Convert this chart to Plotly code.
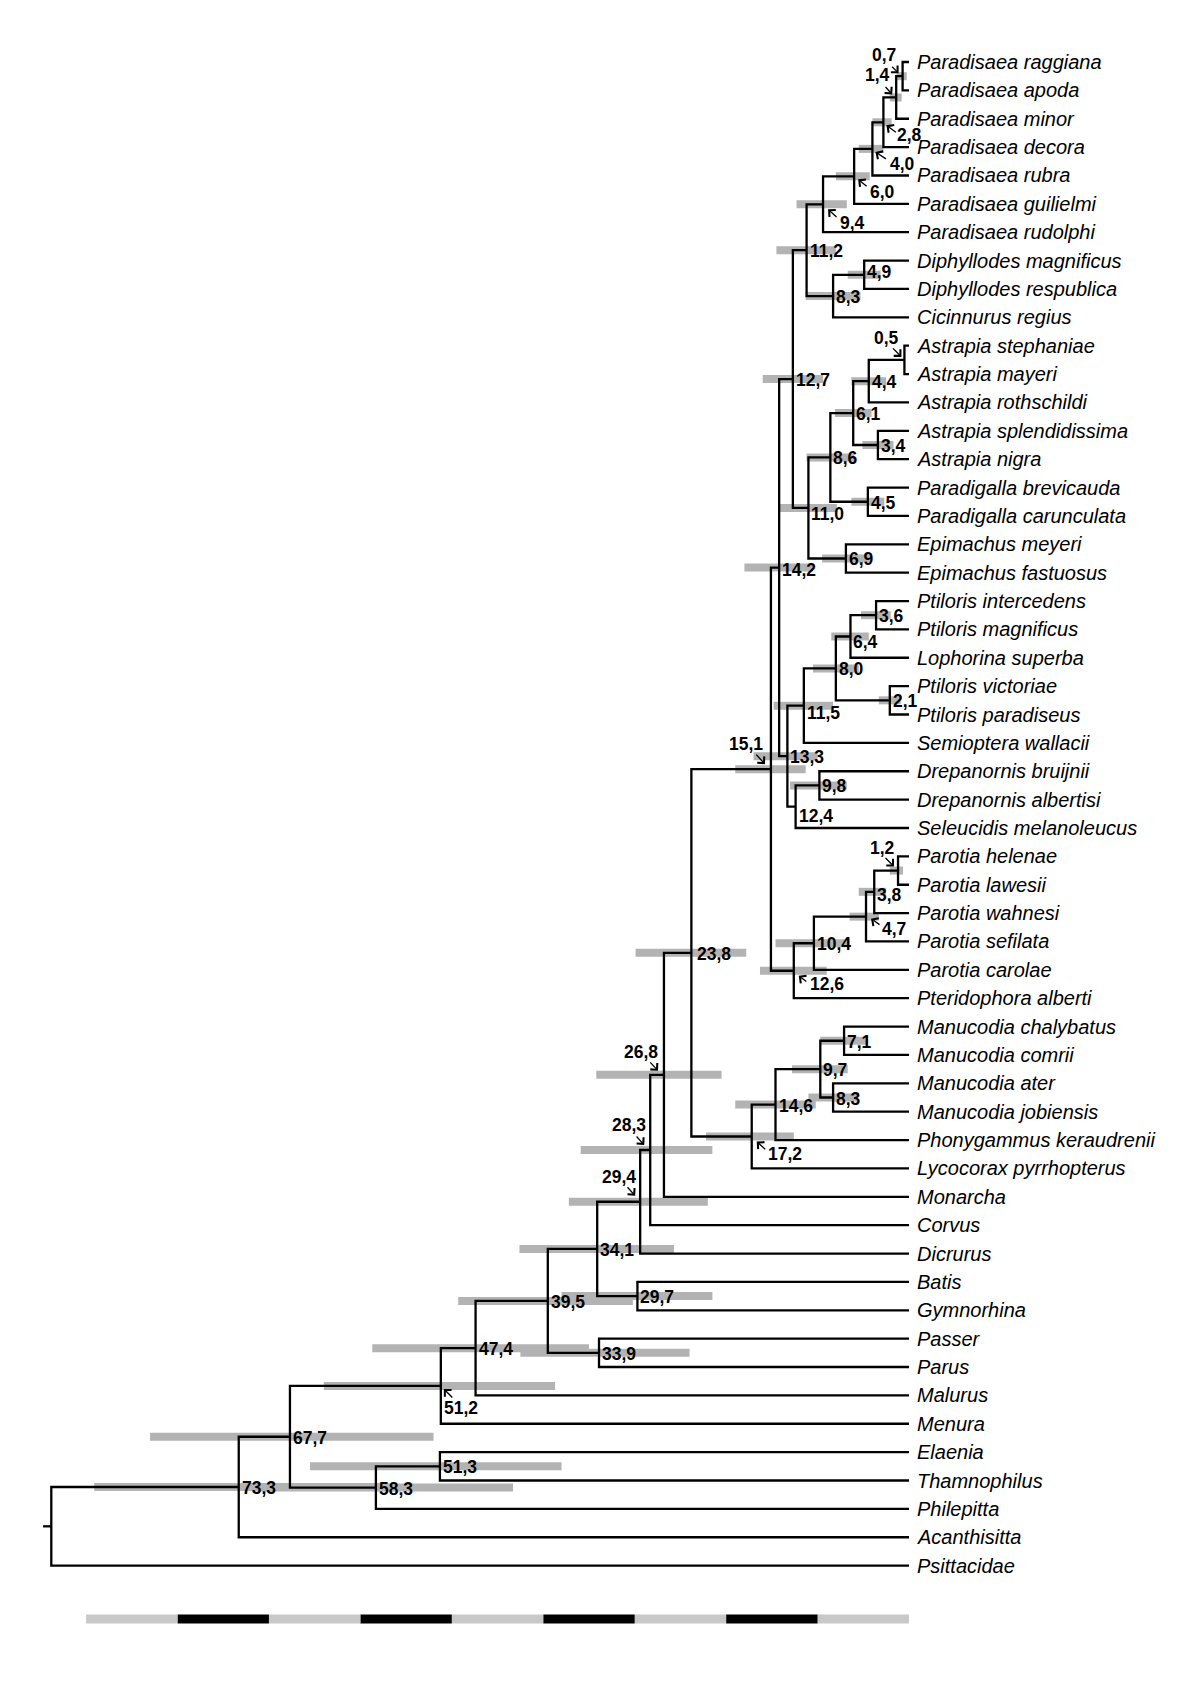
import plotly.graph_objects as go

# ---------------- DATA ----------------
tip_names = [
    "Paradisaea raggiana", "Paradisaea apoda", "Paradisaea minor", "Paradisaea decora",
    "Paradisaea rubra", "Paradisaea guilielmi", "Paradisaea rudolphi",
    "Diphyllodes magnificus", "Diphyllodes respublica", "Cicinnurus regius",
    "Astrapia stephaniae", "Astrapia mayeri", "Astrapia rothschildi",
    "Astrapia splendidissima", "Astrapia nigra", "Paradigalla brevicauda",
    "Paradigalla carunculata", "Epimachus meyeri", "Epimachus fastuosus",
    "Ptiloris intercedens", "Ptiloris magnificus", "Lophorina superba",
    "Ptiloris victoriae", "Ptiloris paradiseus", "Semioptera wallacii",
    "Drepanornis bruijnii", "Drepanornis albertisi", "Seleucidis melanoleucus",
    "Parotia helenae", "Parotia lawesii", "Parotia wahnesi", "Parotia sefilata",
    "Parotia carolae", "Pteridophora alberti", "Manucodia chalybatus",
    "Manucodia comrii", "Manucodia ater", "Manucodia jobiensis",
    "Phonygammus keraudrenii", "Lycocorax pyrrhopterus", "Monarcha", "Corvus",
    "Dicrurus", "Batis", "Gymnorhina", "Passer", "Parus", "Malurus", "Menura",
    "Elaenia", "Thamnophilus", "Philepitta", "Acanthisitta", "Psittacidae",
]

# internal nodes: id, age (Ma), two children (tip names or node ids)
node_ids = [
    "n0.7", "n1.4", "n2.8", "n4.0", "n6.0", "n9.4", "n4.9", "n8.3a", "n11.2",
    "n0.5", "n4.4", "n3.4", "n6.1", "n4.5", "n8.6", "n6.9", "n11.0", "n12.7",
    "n3.6", "n6.4", "n2.1", "n8.0", "n11.5", "n9.8", "n12.4", "n13.3", "n14.2",
    "n1.2", "n3.8", "n4.7", "n10.4", "n12.6", "n15.1",
    "n7.1", "n8.3b", "n9.7", "n14.6", "n17.2", "n23.8",
    "n26.8", "n28.3", "n29.4", "n29.7", "n34.1", "n33.9", "n39.5", "n47.4",
    "n51.2", "n51.3", "n58.3", "n67.7", "n73.3", "root",
]
node_ages = [
    0.7, 1.4, 2.8, 4.0, 6.0, 9.4, 4.9, 8.3, 11.2,
    0.5, 4.4, 3.4, 6.1, 4.5, 8.6, 6.9, 11.0, 12.7,
    3.6, 6.4, 2.1, 8.0, 11.5, 9.8, 12.4, 13.3, 14.2,
    1.2, 3.8, 4.7, 10.4, 12.6, 15.1,
    7.1, 8.3, 9.7, 14.6, 17.2, 23.8,
    26.8, 28.3, 29.4, 29.7, 34.1, 33.9, 39.5, 47.4,
    51.2, 51.3, 58.3, 67.7, 73.3, 93.8,
]
node_child_a = [
    "Paradisaea raggiana", "n0.7", "n1.4", "n2.8", "n4.0", "n6.0",
    "Diphyllodes magnificus", "n4.9", "n9.4",
    "Astrapia stephaniae", "n0.5", "Astrapia splendidissima", "n4.4",
    "Paradigalla brevicauda", "n6.1", "Epimachus meyeri", "n8.6", "n11.2",
    "Ptiloris intercedens", "n3.6", "Ptiloris victoriae", "n6.4", "n8.0",
    "Drepanornis bruijnii", "n9.8", "n11.5", "n12.7",
    "Parotia helenae", "n1.2", "n3.8", "n4.7", "n10.4", "n14.2",
    "Manucodia chalybatus", "Manucodia ater", "n7.1", "n9.7", "n14.6", "n15.1",
    "n23.8", "n26.8", "n28.3", "Batis", "n29.4", "Passer", "n34.1", "n39.5",
    "n47.4", "Elaenia", "n51.3", "n51.2", "n67.7", "n73.3",
]
node_child_b = [
    "Paradisaea apoda", "Paradisaea minor", "Paradisaea decora", "Paradisaea rubra",
    "Paradisaea guilielmi", "Paradisaea rudolphi",
    "Diphyllodes respublica", "Cicinnurus regius", "n8.3a",
    "Astrapia mayeri", "Astrapia rothschildi", "Astrapia nigra", "n3.4",
    "Paradigalla carunculata", "n4.5", "Epimachus fastuosus", "n6.9", "n11.0",
    "Ptiloris magnificus", "Lophorina superba", "Ptiloris paradiseus", "n2.1",
    "Semioptera wallacii", "Drepanornis albertisi", "Seleucidis melanoleucus",
    "n12.4", "n13.3",
    "Parotia lawesii", "Parotia wahnesi", "Parotia sefilata", "Parotia carolae",
    "Pteridophora alberti", "n12.6",
    "Manucodia comrii", "Manucodia jobiensis", "n8.3b", "Phonygammus keraudrenii",
    "Lycocorax pyrrhopterus", "n17.2",
    "Monarcha", "Corvus", "Dicrurus", "Gymnorhina", "n29.7", "Parus", "n33.9",
    "Malurus", "Menura", "Thamnophilus", "Philepitta", "n58.3", "Acanthisitta",
    "Psittacidae",
]
# 95% intervals (Ma); None = no bar visible
ci_low = [
    0.25, 0.8, 1.9, 2.8, 4.3, 6.8, 3.1, 5.3, 8.0,
    None, 2.5, 1.7, 4.1, 2.7, 6.0, 4.3, 7.9, 9.4,
    2.0, 4.4, 0.9, 5.5, 8.3, 6.8, None, 10.0, 10.5,
    0.65, 2.5, 3.3, 6.5, 9.0, 11.3,
    4.5, 5.6, 6.7, 10.2, 12.6, 17.8,
    20.5, 21.5, 22.0, 21.5, 25.7, 24.0, 30.2, 35.0,
    38.7, 38.0, 43.3, 52.0, 57.8, None,
]
ci_high = [
    1.35, 2.1, 4.0, 5.5, 8.0, 12.3, 6.7, 11.3, 14.5,
    None, 6.3, 5.1, 8.1, 6.3, 11.2, 9.5, 14.3, 16.0,
    5.25, 8.5, 3.3, 10.5, 14.8, 13.0, None, 17.0, 18.0,
    2.1, 5.5, 6.5, 14.6, 16.3, 19.0,
    9.7, 11.0, 12.8, 19.0, 22.2, 29.9,
    34.2, 35.9, 37.2, 38.0, 42.6, 42.5, 49.3, 58.7,
    64.0, 65.5, 71.0, 83.0, 89.1, None,
]
root_stem_age = 94.7
scale_ticks = [0, 10, 20, 30, 40, 50, 60, 70, 80, 90]

# ---------------- LAYOUT CONSTANTS ----------------
PAGE_MARGIN = 8  # default body margin of the html page
W, H = 1200 - 2 * PAGE_MARGIN, 1696 - 2 * PAGE_MARGIN
X_TIP_PX, PX_PER_MA = 909.0 - PAGE_MARGIN, 9.144
Y0_PX, DY_PX = 62.0 - PAGE_MARGIN, 28.37
x_range = [X_TIP_PX / PX_PER_MA, (X_TIP_PX - W) / PX_PER_MA]
y_range = [(H - Y0_PX) / DY_PX, -Y0_PX / DY_PX]
BAR_HALF = 4.0 / DY_PX
SCALE_Y = (1619 - PAGE_MARGIN - Y0_PX) / DY_PX
SCALE_HALF = 4.5 / DY_PX
FONT = "Liberation Sans, Arial, sans-serif"

# special label placements: text centre offset (px, +down) and arrow tip/tail (px)
label_center = {
    "n0.7": (-19, -21), "n1.4": (-19, -22), "n2.8": (26, 13), "n4.0": (30, 15),
    "n6.0": (28, 16), "n9.4": (29, 19), "n0.5": (-18, -22), "n15.1": (-25, -25),
    "n1.2": (-16, -23), "n4.7": (28, 12), "n12.6": (33, 13), "n17.2": (33, 17),
    "n26.8": (-23, -23), "n28.3": (-21, -25), "n29.4": (-21, -25), "n51.2": (20, 22),
}
arrows = {
    "n0.7": (-4, -3, -12, -11), "n1.4": (-4, -3, -12, -12), "n2.8": (3, 3, 14, 11),
    "n4.0": (3, 3, 15, 11), "n6.0": (4, 3, 14, 11), "n9.4": (5, 5, 15, 14),
    "n0.5": (-3, -3, -13, -13), "n15.1": (-6, -5, -16, -16), "n1.2": (-4, -4, -14, -14),
    "n4.7": (5, 2, 15, 9), "n12.6": (5, 5, 14, 12), "n17.2": (5, 5, 15, 14),
    "n26.8": (-6, -4, -15, -14), "n28.3": (-6, -5, -15, -15), "n29.4": (-5, -6, -14, -16),
    "n51.2": (3, 3, 13, 13),
}
label_dy = {"n11.5": 7, "n12.4": 9, "n11.0": 6, "n6.4": 6, "n14.2": 2, "n3.8": 3,
            "n4.9": -3, "n6.9": 1}
label_dx = {"n23.8": 3}

# ---------------- GEOMETRY ----------------
pos = {}
for i, t in enumerate(tip_names):
    pos[t] = (0.0, float(i))
for nid, age, a, b in zip(node_ids, node_ages, node_child_a, node_child_b):
    pos[nid] = (age, (pos[a][1] + pos[b][1]) / 2.0)

xs, ys = [], []
for nid, age, a, b in zip(node_ids, node_ages, node_child_a, node_child_b):
    ya, yb = pos[a][1], pos[b][1]
    xs += [pos[a][0], age, age, pos[b][0], None]
    ys += [ya, ya, yb, yb, None]
root_y = pos["root"][1]
xs += [root_stem_age, pos["root"][0], None]
ys += [root_y, root_y, None]

shapes = []
for nid, lo, hi in zip(node_ids, ci_low, ci_high):
    if lo is None:
        continue
    y = pos[nid][1]
    shapes.append(dict(type="rect", xref="x", yref="y", x0=hi, x1=lo,
                       y0=y - BAR_HALF, y1=y + BAR_HALF, fillcolor="#b3b3b3",
                       line=dict(width=0), layer="below"))
for k in range(len(scale_ticks) - 1):
    col = "#c8c8c8" if k % 2 == 0 else "#000000"
    shapes.append(dict(type="rect", xref="x", yref="y", x0=scale_ticks[k], x1=scale_ticks[k + 1],
                       y0=SCALE_Y - SCALE_HALF, y1=SCALE_Y + SCALE_HALF, fillcolor=col,
                       line=dict(width=0), layer="below"))

fig = go.Figure()
fig.add_trace(go.Scatter(x=xs, y=ys, mode="lines", line=dict(color="black", width=2.3),
                         hoverinfo="skip", showlegend=False))

annotations = []
for t in tip_names:
    annotations.append(dict(x=0, y=pos[t][1], xref="x", yref="y", text="<i>%s</i>" % t,
                            showarrow=False, xanchor="left", yanchor="middle", xshift=6,
                            font=dict(family=FONT, size=20, color="black")))
for nid, age in zip(node_ids, node_ages):
    if nid == "root":
        continue
    txt = ("%.1f" % age).replace(".", ",")
    x, y = pos[nid]
    if nid in label_center:
        cx, cy = label_center[nid]
        annotations.append(dict(x=x, y=y, xref="x", yref="y", text="<b>%s</b>" % txt,
                                showarrow=False, xanchor="center", yanchor="middle",
                                xshift=cx, yshift=-cy,
                                font=dict(family=FONT, size=17.5, color="black")))
        tdx, tdy, sdx, sdy = arrows[nid]
        annotations.append(dict(x=x, y=y, xref="x", yref="y", text="", showarrow=True,
                                arrowhead=4, arrowsize=1.4, arrowwidth=1.3, arrowcolor="black",
                                standoff=0, startstandoff=0,
                                xshift=tdx, yshift=-tdy, ax=sdx - tdx, ay=sdy - tdy,
                                axref="pixel", ayref="pixel"))
    else:
        annotations.append(dict(x=x, y=y, xref="x", yref="y", text="<b>%s</b>" % txt,
                                showarrow=False, xanchor="left", yanchor="middle",
                                xshift=1 + label_dx.get(nid, 0), yshift=-label_dy.get(nid, 1),
                                font=dict(family=FONT, size=17.5, color="black")))

fig.update_layout(
    width=W, height=H, margin=dict(l=0, r=0, t=0, b=0),
    paper_bgcolor="white", plot_bgcolor="white",
    xaxis=dict(range=x_range, visible=False, fixedrange=True),
    yaxis=dict(range=y_range, visible=False, fixedrange=True),
    shapes=shapes, annotations=annotations, showlegend=False,
)
fig.write_html("out.html")
